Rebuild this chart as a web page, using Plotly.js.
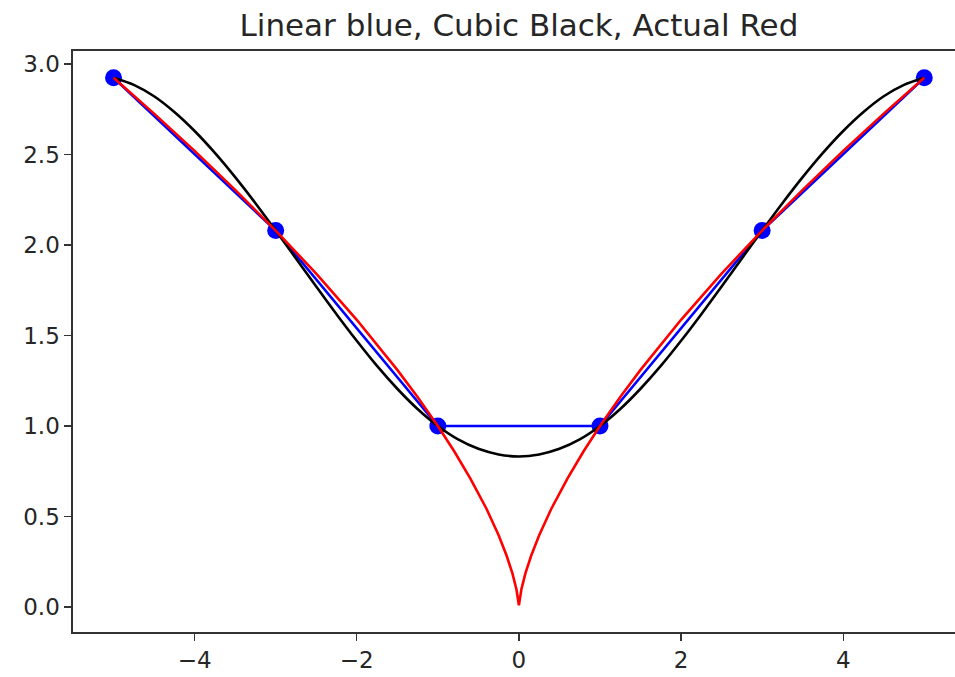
<!DOCTYPE html>
<html>
<head>
<meta charset="utf-8">
<script src="https://cdn.plot.ly/plotly-3.0.1.min.js"></script>
<style>
html, body { margin: 0; padding: 0; background: #fff; overflow: hidden; }
#chart { width: 955px; height: 677px; }
</style>
</head>
<body>
<div id="chart"></div>
<script>
// Sample points (blue markers + linear interpolation)
const pointX = [-5, -3, -1, 1, 3, 5];
const pointY = [2.924, 2.080, 1.000, 1.000, 2.080, 2.924];

// Cubic interpolation (black)
const cubicX = [-5, -4.75, -4.5, -4.25, -4, -3.75, -3.5, -3.25, -3, -2.75, -2.5, -2.25, -2, -1.75, -1.5, -1.25, -1, -0.75, -0.5, -0.25, 0,
                0.25, 0.5, 0.75, 1, 1.25, 1.5, 1.75, 2, 2.25, 2.5, 2.75, 3, 3.25, 3.5, 3.75, 4, 4.25, 4.5, 4.75, 5];
const cubicY = [2.924, 2.885, 2.822, 2.735, 2.630, 2.509, 2.375, 2.231, 2.080, 1.926, 1.771, 1.618, 1.471, 1.332, 1.206, 1.094, 1.000, 0.926, 0.874, 0.843, 0.832,
                0.843, 0.874, 0.926, 1.000, 1.094, 1.206, 1.332, 1.471, 1.618, 1.771, 1.926, 2.080, 2.231, 2.375, 2.509, 2.630, 2.735, 2.822, 2.885, 2.924];

// Actual function (red)
const actualX = [-5, -4.5, -4, -3.5, -3, -2.5, -2, -1.5, -1.25, -1, -0.8, -0.6, -0.4, -0.25, -0.15, -0.08, -0.03, 0, 0.03, 0.08, 0.15, 0.25, 0.4, 0.6, 0.8, 1, 1.25, 1.5, 2, 2.5, 3, 3.5, 4, 4.5, 5];
const actualY = [2.924, 2.726, 2.520, 2.305, 2.080, 1.842, 1.587, 1.310, 1.160, 1.000, 0.862, 0.711, 0.543, 0.397, 0.282, 0.186, 0.097, 0.010, 0.097, 0.186, 0.282, 0.397, 0.543, 0.711, 0.862, 1.000, 1.160, 1.310, 1.587, 1.842, 2.080, 2.305, 2.520, 2.726, 2.924];

const xTicks = [-4, -2, 0, 2, 4];
const yTicks = [0, 0.5, 1.0, 1.5, 2.0, 2.5, 3.0];
const titleText = 'Linear blue, Cubic Black, Actual Red';

const FONT = 'DejaVu Sans, sans-serif';

const traces = [
  {
    x: pointX, y: pointY, mode: 'lines+markers', type: 'scatter',
    line: {color: '#0000ff', width: 2.6},
    marker: {color: '#0000ff', size: 17},
    hoverinfo: 'skip'
  },
  {
    x: cubicX, y: cubicY, mode: 'lines', type: 'scatter',
    line: {color: '#000000', width: 2.6, shape: 'spline', smoothing: 0.8},
    hoverinfo: 'skip'
  },
  {
    x: actualX, y: actualY, mode: 'lines', type: 'scatter',
    line: {color: '#ff0000', width: 2.6},
    hoverinfo: 'skip'
  }
];

const layout = {
  width: 955, height: 677,
  margin: {l: 72.7, r: 0, t: 51, b: 45.3, pad: 0},
  paper_bgcolor: '#ffffff', plot_bgcolor: '#ffffff',
  showlegend: false,
  font: {family: FONT, color: '#262626', size: 23},
  title: {
    text: titleText,
    font: {family: FONT, size: 31, color: '#262626'},
    xref: 'paper', x: 0.5056, xanchor: 'center',
    yref: 'container', y: 0.963, yanchor: 'middle'
  },
  xaxis: {
    range: [-5.5, 5.379],
    tickmode: 'array', tickvals: xTicks,
    ticks: 'outside', ticklen: 7, tickwidth: 1.3, tickcolor: '#333',
    showline: true, linecolor: '#333', linewidth: 1.6, mirror: true,
    showgrid: false, zeroline: false,
    tickfont: {family: FONT, size: 23, color: '#262626'}
  },
  yaxis: {
    range: [-0.138, 3.072],
    tickmode: 'array', tickvals: yTicks, tickformat: '.1f',
    ticks: 'outside', ticklen: 7, tickwidth: 1.3, tickcolor: '#333',
    showline: true, linecolor: '#333', linewidth: 1.6, mirror: false,
    showgrid: false, zeroline: false,
    tickfont: {family: FONT, size: 23, color: '#262626'}
  }
};

Plotly.newPlot('chart', traces, layout, {staticPlot: true, displayModeBar: false});
</script>
</body>
</html>
